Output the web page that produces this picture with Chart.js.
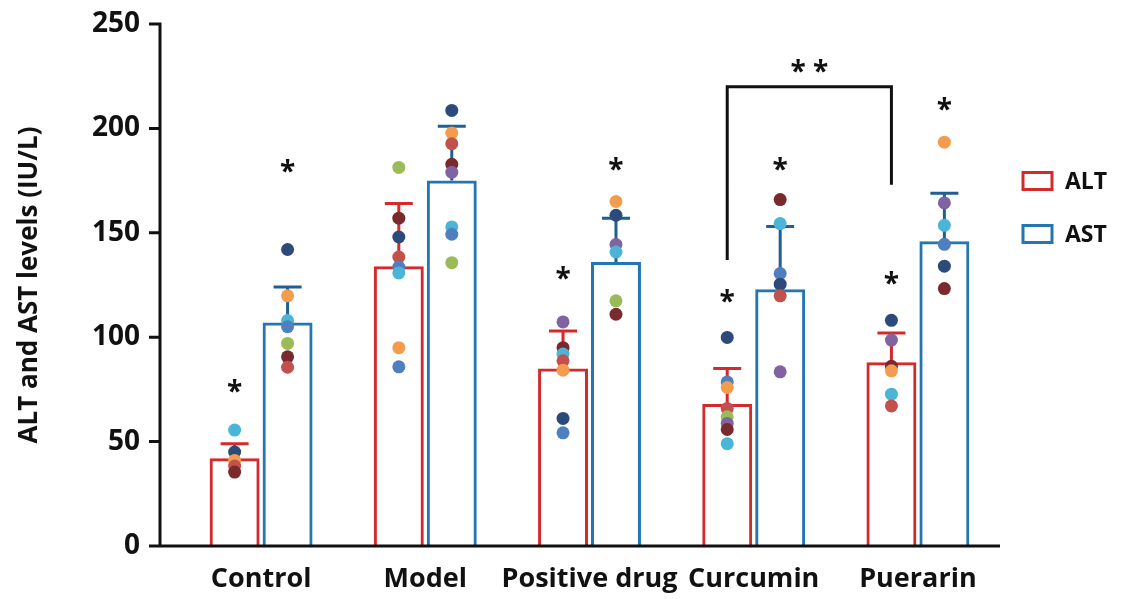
<!DOCTYPE html>
<html>
<head>
<meta charset="utf-8">
<script src="https://cdn.jsdelivr.net/npm/chart.js@4.4.1/dist/chart.umd.min.js"></script>
<style>
  html, body { margin: 0; padding: 0; background: #fff; }
  #wrap { width: 1125px; height: 599px; }
</style>
</head>
<body>
<div id="wrap"><canvas id="chart"></canvas></div>
<script>
// Group means and upper SD
const categories = ['Control', 'Model', 'Positive drug', 'Curcumin', 'Puerarin'];
const altMean = [42, 134, 85, 68, 88];
const altSD = [7, 30, 18, 17, 14];
const astMean = [107, 175, 136, 123, 146];
const astSD = [17, 26, 21, 30, 23];
const yTicks = [0, 50, 100, 150, 200, 250];

// Individual animals (value) and which animal each dot belongs to (colour key)
const altDots = [
    [55.5, 45, 41, 38.3, 35.4],
    [181.3, 157, 148, 138.4, 133.6, 130.8, 95, 85.8],
    [107.3, 95, 91.9, 88.7, 84.2, 61.1, 54.2],
    [99.9, 78.6, 75.9, 65.9, 61.9, 58.7, 55.8, 49],
    [108.1, 98.6, 86.1, 83.9, 72.7, 67.1]
];
const altDotIds = [
    [2, 0, 1, 5, 4],
    [3, 4, 0, 5, 7, 2, 1, 7],
    [6, 4, 2, 5, 1, 0, 7],
    [0, 7, 1, 5, 3, 6, 4, 2],
    [0, 6, 4, 1, 2, 5]
];
const astDots = [
    [142, 119.8, 108, 105, 97, 90.6, 85.6],
    [208.6, 197.8, 192.7, 182.8, 179, 152.8, 149.3, 135.7],
    [165, 158.4, 144.4, 140.8, 117.4, 111],
    [165.9, 154.4, 130.5, 125.4, 119.8, 83.4],
    [193.4, 164.3, 153.6, 144.5, 134, 123.3]
];
const astDotIds = [
    [0, 1, 2, 7, 3, 4, 5],
    [0, 1, 5, 4, 6, 2, 7, 3],
    [1, 0, 6, 2, 3, 4],
    [4, 2, 7, 0, 5, 6],
    [1, 6, 2, 7, 0, 4]
];

// Significance marks (value where the star sits, null = none)
const altStar = [77, null, 131, 120, 129];
const astStar = [182.5, null, 183.5, 183.5, 212];
// Bracket between Curcumin and Puerarin ALT
const bracketTop = 220;
const bracketLeftEnd = 137;
const bracketRightEnd = 173;
const bracketLabel = '* *';
const bracketLabelValue = 230.5;

// styles
const ALT_COLOR = '#d42a2c';
const AST_COLOR = '#2476b0';
const AST_ERR = '#1f5f93';
const PALETTE = ['#2c4a7a', '#f39c4f', '#4bb5d8', '#9bbb59', '#7a2a2c', '#c4504e', '#8064a2', '#4f7fbf'];
const FONT = "'Open Sans', 'DejaVu Sans', sans-serif";
const TEXT = '#111';

const decor = {
    id: 'decor',
    afterDatasetsDraw(chart) {
        const { ctx, chartArea } = chart;
        const y = chart.scales.y;
        const y0 = y.getPixelForValue(0);
        const axisX = chartArea.left - 19;

        ctx.save();
        ctx.lineCap = 'butt';

        // upper error bars
        [[0, altMean, altSD, ALT_COLOR], [1, astMean, astSD, AST_ERR]].forEach(([di, mean, sd, col]) => {
            chart.getDatasetMeta(di).data.forEach((bar, i) => {
                const top = y.getPixelForValue(mean[i] + sd[i]);
                ctx.strokeStyle = col;
                ctx.lineWidth = 3;
                ctx.beginPath();
                ctx.moveTo(bar.x, bar.y);
                ctx.lineTo(bar.x, top);
                ctx.moveTo(bar.x - 14, top);
                ctx.lineTo(bar.x + 14, top);
                ctx.stroke();
            });
        });

        // dots
        [[0, altDots, altDotIds], [1, astDots, astDotIds]].forEach(([di, dots, ids]) => {
            chart.getDatasetMeta(di).data.forEach((bar, i) => {
                dots[i].forEach((v, k) => {
                    ctx.fillStyle = PALETTE[ids[i][k]];
                    ctx.beginPath();
                    ctx.arc(bar.x, y.getPixelForValue(v), 6.5, 0, Math.PI * 2);
                    ctx.fill();
                });
            });
        });

        // stars
        ctx.fillStyle = TEXT;
        ctx.font = 'bold 28px ' + FONT;
        ctx.textAlign = 'center';
        ctx.textBaseline = 'alphabetic';
        [[0, altStar], [1, astStar]].forEach(([di, stars]) => {
            chart.getDatasetMeta(di).data.forEach((bar, i) => {
                if (stars[i] == null) return;
                ctx.fillText('*', bar.x, y.getPixelForValue(stars[i]) + 16);
            });
        });

        // bracket Curcumin ALT -> Puerarin ALT
        const altBars = chart.getDatasetMeta(0).data;
        const bl = altBars[3].x, br = altBars[4].x;
        const bt = y.getPixelForValue(bracketTop);
        ctx.strokeStyle = TEXT;
        ctx.lineWidth = 3;
        ctx.lineJoin = 'miter';
        ctx.beginPath();
        ctx.moveTo(bl, y.getPixelForValue(bracketLeftEnd));
        ctx.lineTo(bl, bt);
        ctx.lineTo(br, bt);
        ctx.lineTo(br, y.getPixelForValue(bracketRightEnd));
        ctx.stroke();
        ctx.fillText(bracketLabel, (bl + br) / 2, y.getPixelForValue(bracketLabelValue) + 16);

        // axes
        ctx.strokeStyle = TEXT;
        ctx.lineWidth = 3;
        ctx.beginPath();
        ctx.moveTo(axisX, y.getPixelForValue(250) - 1.5);
        ctx.lineTo(axisX, y0);
        yTicks.forEach(t => {
            const ty = y.getPixelForValue(t);
            ctx.moveTo(axisX - 11, ty);
            ctx.lineTo(axisX, ty);
        });
        ctx.moveTo(axisX - 11, y0);
        ctx.lineTo(chartArea.right, y0);
        ctx.stroke();

        // legend
        const lx = chartArea.right + 23;
        [['ALT', ALT_COLOR, 181], ['AST', AST_COLOR, 234]].forEach(([label, col, cy]) => {
            ctx.strokeStyle = col;
            ctx.lineWidth = 3;
            ctx.strokeRect(lx, cy - 8.5, 29, 17);
            ctx.fillStyle = TEXT;
            ctx.font = 'bold 23px ' + FONT;
            ctx.textAlign = 'left';
            ctx.textBaseline = 'middle';
            ctx.fillText(label, lx + 42, cy + 1);
        });
        ctx.restore();
    }
};

new Chart(document.getElementById('chart').getContext('2d'), {
    type: 'bar',
    data: {
        labels: categories,
        datasets: [
            { label: 'ALT', data: altMean, backgroundColor: 'rgba(255,255,255,0)', borderColor: ALT_COLOR, borderWidth: 3 },
            { label: 'AST', data: astMean, backgroundColor: 'rgba(255,255,255,0)', borderColor: AST_COLOR, borderWidth: 3 }
        ]
    },
    options: {
        responsive: true,
        maintainAspectRatio: false,
        animation: false,
        datasets: { bar: { categoryPercentage: 0.645, barPercentage: 0.943 } },
        layout: { padding: { top: 24, right: 125, bottom: 2, left: 0 } },
        scales: {
            x: {
                grid: { display: false, drawTicks: false },
                border: { display: false },
                ticks: {
                    padding: 17,
                    maxRotation: 0,
                    minRotation: 0,
                    autoSkip: false,
                    color: TEXT,
                    font: { family: FONT, weight: 'bold', size: 27 }
                },
                afterFit(scale) {
                    scale.height = 51;
                }
            },
            y: {
                min: 0,
                max: 250,
                grid: { display: false, drawTicks: false },
                border: { display: false },
                ticks: { stepSize: 50, padding: 39, color: TEXT, font: { family: FONT, weight: 'bold', size: 28 } },
                title: {
                    display: true,
                    text: 'ALT and AST levels (IU/L)',
                    color: TEXT,
                    font: { family: FONT, weight: 'bold', size: 26 },
                    padding: { top: 14, bottom: 0 }
                },
                afterFit(scale) {
                    scale.width = 179;
                    scale.paddingTop = 0;
                    scale.paddingBottom = 0;
                }
            }
        },
        plugins: {
            legend: { display: false },
            tooltip: { enabled: false }
        }
    },
    plugins: [decor]
});
</script>
</body>
</html>
